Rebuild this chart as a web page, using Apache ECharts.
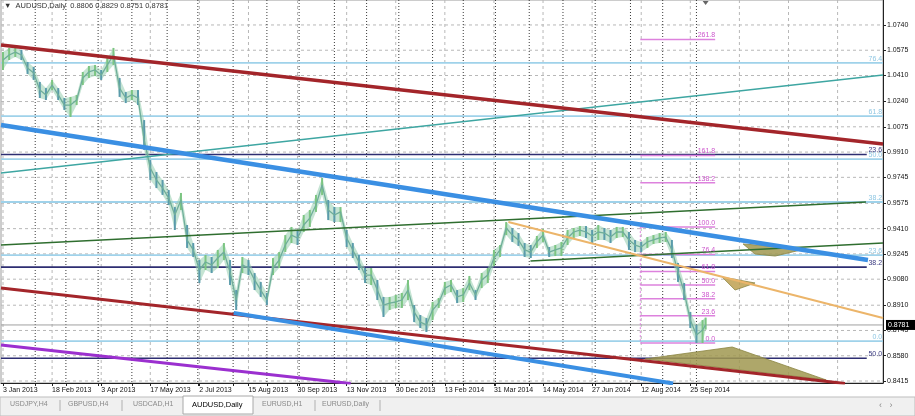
<!DOCTYPE html>
<html><head><meta charset="utf-8">
<script src="https://cdn.jsdelivr.net/npm/echarts@6/dist/echarts.min.js"></script>
<style>html,body{margin:0;padding:0;background:#fff;overflow:hidden}#c{width:915px;height:416px}</style>
</head><body><div id="c"></div>
<script>
// ---------- DATA ----------
const dateLabels = ['3 Jan 2013','18 Feb 2013','3 Apr 2013','17 May 2013','2 Jul 2013','15 Aug 2013','30 Sep 2013','13 Nov 2013','30 Dec 2013','13 Feb 2014','31 Mar 2014','14 May 2014','27 Jun 2014','12 Aug 2014','25 Sep 2014'];
const dateLabelBars = [0,32,64,96,128,160,192,224,256,288,320,352,384,416,448];
const gridBars = [0,32,64,96,128,160,192,224,256,288,320,352,384,416,448,480,512,544];
const monthStartBars = [21,41,62,84,107,127,150,172,193,216,237,258,280,300,321,343,365,386,409,430,452];
const priceTicks = [1.0740,1.0575,1.0410,1.0240,1.0075,0.9910,0.9745,0.9575,0.9410,0.9245,0.9080,0.8910,0.8745,0.8580,0.8415];

// sampled bars (every 4th daily bar, last = current bar)
const closes = [
1.0511,1.0544,1.0563,1.0544,1.0459,1.0426,1.0315,1.0283,1.0348,1.0283,
1.0217,1.0217,1.0250,1.0394,1.0433,1.0446,1.0413,1.0479,1.0544,1.0328,
1.0263,1.0283,1.0263,0.9989,0.9806,0.9728,0.9675,0.9610,0.9499,0.9597,
0.9336,0.9271,0.9140,0.9192,0.9173,0.9218,0.9257,0.9127,0.8944,0.9173,
0.9153,0.9075,0.9009,0.8944,0.9153,0.9205,0.9303,0.9368,0.9349,0.9434,
0.9479,0.9564,0.9695,0.9532,0.9499,0.9519,0.9349,0.9271,0.9192,0.9107,
0.9107,0.9009,0.8911,0.8924,0.8931,0.8944,0.9009,0.8866,0.8800,0.8781,
0.8879,0.8924,0.9022,0.9042,0.8964,0.8977,0.9055,0.8977,0.9075,0.9107,
0.9218,0.9271,0.9414,0.9368,0.9336,0.9271,0.9257,0.9323,0.9368,0.9257,
0.9271,0.9284,0.9349,0.9388,0.9401,0.9388,0.9362,0.9388,0.9381,0.9355,
0.9388,0.9388,0.9336,0.9303,0.9290,0.9323,0.9336,0.9349,0.9355,0.9271,
0.9127,0.8996,0.8813,0.8716,0.8748,0.8781];
const highs = [
1.0563,1.0590,1.0596,1.0577,1.0498,1.0466,1.0368,1.0328,1.0381,1.0328,
1.0263,1.0270,1.0283,1.0433,1.0472,1.0479,1.0446,1.0524,1.0590,1.0394,
1.0302,1.0315,1.0315,1.0119,0.9858,0.9780,0.9728,0.9662,0.9551,0.9643,
0.9434,0.9316,0.9205,0.9238,0.9225,0.9271,0.9316,0.9205,0.9009,0.9225,
0.9205,0.9120,0.9062,0.8990,0.9218,0.9257,0.9368,0.9421,0.9401,0.9499,
0.9532,0.9630,0.9741,0.9597,0.9551,0.9551,0.9401,0.9316,0.9238,0.9153,
0.9153,0.9075,0.8964,0.8964,0.8977,0.8990,0.9075,0.8911,0.8846,0.8826,
0.8931,0.8957,0.9062,0.9075,0.9009,0.9022,0.9101,0.9009,0.9120,0.9153,
0.9271,0.9303,0.9453,0.9414,0.9381,0.9316,0.9303,0.9362,0.9408,0.9290,
0.9303,0.9323,0.9401,0.9414,0.9427,0.9427,0.9401,0.9434,0.9414,0.9401,
0.9421,0.9421,0.9388,0.9336,0.9323,0.9355,0.9368,0.9381,0.9388,0.9336,
0.9186,0.9055,0.8866,0.8781,0.8813,0.8829];
const lows = [
1.0446,1.0511,1.0531,1.0511,1.0420,1.0381,1.0263,1.0250,1.0315,1.0250,
1.0185,1.0139,1.0217,1.0348,1.0394,1.0407,1.0381,1.0433,1.0479,1.0270,
1.0230,1.0250,1.0217,0.9924,0.9728,0.9675,0.9630,0.9564,0.9401,0.9532,
0.9284,0.9225,0.9055,0.9140,0.9120,0.9153,0.9205,0.9042,0.8879,0.9120,
0.9107,0.9009,0.8964,0.8911,0.9107,0.9153,0.9257,0.9316,0.9303,0.9388,
0.9421,0.9519,0.9630,0.9466,0.9453,0.9453,0.9290,0.9218,0.9140,0.9055,
0.9042,0.8944,0.8833,0.8879,0.8892,0.8892,0.8944,0.8800,0.8761,0.8735,
0.8813,0.8892,0.8977,0.8996,0.8924,0.8931,0.9009,0.8944,0.9022,0.9055,
0.9166,0.9225,0.9368,0.9323,0.9297,0.9225,0.9218,0.9284,0.9323,0.9225,
0.9231,0.9231,0.9303,0.9349,0.9362,0.9349,0.9316,0.9336,0.9336,0.9316,
0.9349,0.9355,0.9271,0.9257,0.9257,0.9284,0.9310,0.9316,0.9323,0.9218,
0.9062,0.8944,0.8761,0.8663,0.8663,0.8751];
const sampleBars = closes.map((_, i) => i < closes.length - 1 ? i * 4 : 458);
const lastOHLC = [0.8806, 0.8829, 0.8751, 0.8781];

// drawn objects: [bar, price] end points
const redUpperLine   = [[-1.3, 1.0609], [573.6, 0.9963]];
const blueUpperLine  = [[-1.3, 1.0087], [563.8, 0.9205]];
const redLowerLine   = [[-1.3, 0.9022], [548.8, 0.8399]];
const blueLowerLine  = [[150.4, 0.8859], [436.8, 0.8399]];
const purpleLine     = [[-1.3, 0.8650], [226.6, 0.8399]];
const tealLine       = [[-1.3, 0.9773], [573.6, 1.0413]];
const greenUpperLine = [[-1.3, 0.9303], [562.5, 0.9584]];
const orangeLine     = [[329.4, 0.9453], [573.6, 0.8826]];
const greenLowerLine = [[343.8, 0.9199], [573.6, 0.9316]];

const oliveBottom = [[418.6, 0.8559], [475.3, 0.8637], [536.5, 0.8422]];
const oliveMid    = [[482.4, 0.9310], [522.8, 0.9277], [503.3, 0.9231], [490.2, 0.9244]];
const oliveSmall  = [[468.75, 0.9094], [490.2, 0.9055], [477.2, 0.9009]];

// Fibonacci objects
const blueFibLevels = [0, 23.6, 38.2, 50.0, 61.8, 76.4];
const blueFibAnchors = [0.8676, 1.1053];      // 0% , 100%
const blueFibBars = [-1.3, 573.6];
const navyFibLevels = [23.6, 38.2, 50.0];
const navyFibAnchors = [1.1083, 0.6045];
const navyFibBars = [-1.3, 563];
const pinkFibLevels = [0, 23.6, 38.2, 50.0, 61.8, 76.4, 100.0, 138.2, 161.8, 261.8];
const pinkFibAnchors = [0.8663, 0.9420];
const pinkFibBars = [415.4, 464.2];

const tabs = ['USDJPY,H4','GBPUSD,H4','USDCAD,H1','AUDUSD,Daily','EURUSD,H1','EURUSD,Daily'];

// ---------- CHART ----------
const X_MIN = -1.3, X_MAX = 573.6, Y_MIN = 0.8402, Y_MAX = 1.0903;
const FONT = 'Liberation Sans, Arial, sans-serif';
const chart = echarts.init(document.getElementById('c'), null, {renderer: 'canvas'});

function fibPrice(anch, r) { return anch[0] + (anch[1] - anch[0]) * r / 100; }

function hRules(values, bars, style, z) {
  return { type: 'custom', silent: true, z: z, clip: true,
    data: values.map(v => [bars[0], v]),
    renderItem: (params, api) => {
      const a = api.coord([bars[0], api.value(1)]);
      const b = api.coord([bars[1], api.value(1)]);
      return { type: 'line', shape: {x1: a[0], y1: a[1], x2: b[0], y2: b[1]}, style: style };
    } };
}
function vRules(bars, style, z, p0, p1) {
  return { type: 'custom', silent: true, z: z, clip: true,
    data: bars.map(b => [b, p0 === undefined ? Y_MIN : p0]),
    renderItem: (params, api) => {
      const a = api.coord([api.value(0), p1 === undefined ? Y_MAX : p1]);
      const b = api.coord([api.value(0), p0 === undefined ? Y_MIN : p0]);
      return { type: 'line', shape: {x1: a[0], y1: a[1], x2: b[0], y2: b[1]}, style: style };
    } };
}
function textLabels(points, texts, color, z) {
  return { type: 'custom', silent: true, z: z, clip: true,
    data: points,
    renderItem: (params, api) => {
      const p = api.coord([api.value(0), api.value(1)]);
      return { type: 'text', x: p[0], y: p[1] - 0.5,
        style: { text: texts[params.dataIndex], fill: color, font: '7px ' + FONT, align: 'right', verticalAlign: 'bottom' } };
    } };
}
function trend(points, color, width, z) {
  return { type: 'line', data: points, symbol: 'none', silent: true, z: z, clip: true,
    lineStyle: { color: color, width: width }, animation: false };
}
function poly(verts, fill, z) {
  return { type: 'custom', silent: true, z: z, data: verts,
    renderItem: (params, api) => {
      if (params.dataIndex !== 0) return null;
      return { type: 'polygon', shape: { points: verts.map(v => api.coord(v)) },
        style: { fill: fill, stroke: '#8a8440', lineWidth: 0.8 } };
    } };
}

const series = [];
// grid
series.push(hRules(priceTicks, [X_MIN, X_MAX], {stroke: '#b8b8b8', lineWidth: 1, lineDash: [3, 3]}, 1));
series.push(vRules(gridBars, {stroke: '#b8b8b8', lineWidth: 1, lineDash: [3, 3]}, 1));
series.push(vRules(monthStartBars, {stroke: '#3a3a3a', lineWidth: 1, lineDash: [1, 2]}, 1));
// fib horizontals
series.push(hRules(blueFibLevels.map(r => fibPrice(blueFibAnchors, r)), blueFibBars, {stroke: '#9fd2ea', lineWidth: 1.8}, 2));
series.push(hRules(navyFibLevels.map(r => fibPrice(navyFibAnchors, r)), navyFibBars, {stroke: '#2e2e72', lineWidth: 1.6}, 2));
series.push(hRules([lastOHLC[3]], [X_MIN, X_MAX], {stroke: '#a0a0a0', lineWidth: 1}, 2));
// olive shapes
series.push(poly(oliveBottom, 'rgba(160,152,80,0.85)', 3));
series.push(poly(oliveMid, 'rgba(160,152,80,0.85)', 3));
series.push(poly(oliveSmall, 'rgba(190,160,80,0.85)', 3));
// pink fib
series.push(hRules(pinkFibLevels.map(r => fibPrice(pinkFibAnchors, r)), pinkFibBars, {stroke: '#dd82dd', lineWidth: 1.5}, 4));
series.push(vRules([pinkFibBars[0]], {stroke: '#dd82dd', lineWidth: 1, lineDash: [2, 2]}, 4, pinkFibAnchors[0], pinkFibAnchors[1]));
// price: high-low band, bars, close line
series.push({ type: 'custom', silent: true, z: 5,
  data: sampleBars.map((b, i) => [b, lows[i], highs[i]]),
  encode: { x: 0, y: [1, 2] },
  renderItem: (params, api) => {
    if (params.dataIndex !== 0) return null;
    const top = sampleBars.map((b, i) => api.coord([b, highs[i]]));
    const bot = sampleBars.map((b, i) => api.coord([b, lows[i]])).reverse();
    return { type: 'polygon', shape: { points: top.concat(bot), smooth: 0 },
      style: { fill: 'rgba(150,205,175,0.55)', stroke: null } };
  } });
series.push({ type: 'custom', silent: true, z: 5,
  data: sampleBars.map((b, i) => [b, lows[i], highs[i], closes[i]]),
  encode: { x: 0, y: [1, 2] },
  renderItem: (params, api) => {
    const i = params.dataIndex;
    const lo = api.coord([api.value(0), api.value(1)]);
    const hi = api.coord([api.value(0), api.value(2)]);
    const up = i === 0 || closes[i] >= closes[i - 1];
    return { type: 'line', shape: {x1: lo[0], y1: lo[1], x2: hi[0], y2: hi[1]},
      style: { stroke: up ? '#7cc582' : '#5a9bab', lineWidth: 2 } };
  } });
series.push({ type: 'line', z: 5, silent: true, symbol: 'none', animation: false,
  data: sampleBars.map((b, i) => [b, closes[i]]),
  lineStyle: { color: '#6fae9a', width: 1.3 } });
// trend lines
series.push(trend(tealLine, '#3ea6a2', 1.5, 6));
series.push(trend(greenUpperLine, '#2f6e2f', 1.6, 6));
series.push(trend(greenLowerLine, '#2f6e2f', 1.6, 6));
series.push(trend(orangeLine, '#ecb56a', 2, 6));
series.push(trend(redUpperLine, '#a3252a', 3.5, 7));
series.push(trend(redLowerLine, '#a3252a', 3, 7));
series.push(trend(purpleLine, '#9b30cf', 3, 7));
series.push(trend(blueUpperLine, '#3a8fe3', 4.5, 7));
series.push(trend(blueLowerLine, '#3a8fe3', 4, 7));
// labels
series.push(textLabels(blueFibLevels.map(r => [blueFibBars[1] - 0.5, fibPrice(blueFibAnchors, r)]), blueFibLevels.map(r => r.toFixed(1)), '#8ec6e2', 8));
series.push(textLabels(navyFibLevels.map(r => [navyFibBars[1] + 10, fibPrice(navyFibAnchors, r)]), navyFibLevels.map(r => r.toFixed(1)), '#3a3a80', 8));
series.push(textLabels(pinkFibLevels.map(r => [pinkFibBars[1], fibPrice(pinkFibAnchors, r)]), pinkFibLevels.map(r => r.toFixed(1)), '#cc55cc', 8));
// current price box
series.push({ type: 'custom', silent: true, z: 20, clip: false,
  data: [[X_MAX, lastOHLC[3]]],
  renderItem: (params, api) => {
    const p = api.coord([api.value(0), api.value(1)]);
    return { type: 'group', children: [
      { type: 'rect', shape: { x: p[0] + 3, y: p[1] - 5, width: 30, height: 10 }, style: { fill: '#000' } },
      { type: 'text', x: p[0] + 5, y: p[1], style: { text: api.value(1).toFixed(4), fill: '#fff', font: '7px ' + FONT, verticalAlign: 'middle' } }
    ] };
  } });

const option = {
  animation: false,
  backgroundColor: '#ffffff',
  grid: { left: 0, top: 0, right: 32, bottom: 33, show: true, borderColor: '#9a9a9a', borderWidth: 1 },
  xAxis: { type: 'value', min: X_MIN, max: X_MAX,
    axisLine: { show: true, onZero: false, lineStyle: { color: '#222' } },
    axisTick: { show: true, customValues: dateLabelBars.concat(monthStartBars), length: 3, lineStyle: { color: '#222' } },
    axisLabel: { customValues: dateLabelBars, formatter: v => dateLabels[dateLabelBars.indexOf(Math.round(v))] || '',
      align: 'left', fontSize: 7, fontFamily: FONT, color: '#111', margin: 4 },
    splitLine: { show: false } },
  yAxis: { type: 'value', position: 'right', min: Y_MIN, max: Y_MAX, scale: true,
    axisLine: { show: true, onZero: false, lineStyle: { color: '#222' } },
    axisTick: { show: true, customValues: priceTicks, length: 3, lineStyle: { color: '#222' } },
    axisLabel: { customValues: priceTicks, formatter: v => v.toFixed(4), fontSize: 7, fontFamily: FONT, color: '#111', margin: 4 },
    splitLine: { show: false } },
  series: series
};
chart.setOption(option);

// header, shift marker, tabs
const tabX = [10, 68, 133, 192, 262, 322];
const seps = [60, 122, 315, 380];
const shiftX = chart.convertToPixel({ xAxisIndex: 0 }, sampleBars[sampleBars.length - 1]);
const g = [
  { type: 'text', left: 4, top: 2, z: 50, style: { text: '\u25BC  ' + 'AUDUSD,Daily  ' + lastOHLC.map(v => v.toFixed(4)).join(' '), fill: '#333', font: '7.5px ' + FONT } },
  { type: 'polygon', z: 50, shape: { points: [[shiftX - 3, 1], [shiftX + 3, 1], [shiftX, 5]] }, style: { fill: '#666' } },
  { type: 'rect', z: 40, shape: { x: 0, y: 397, width: 915, height: 19 }, style: { fill: '#f0f0f0', stroke: '#bdbdbd', lineWidth: 1 } },
  { type: 'rect', z: 41, shape: { x: 183, y: 396, width: 70, height: 18 }, style: { fill: '#ffffff', stroke: '#a8a8a8', lineWidth: 1 } },
  { type: 'text', z: 45, left: 879, top: 401, style: { text: '\u2039   \u203A', fill: '#888', font: '9px ' + FONT } }
];
tabs.forEach((t, i) => g.push({ type: 'text', z: 45, left: tabX[i], top: 401,
  style: { text: t, fill: i === 3 ? '#000' : '#8a8a8a', font: (i === 3 ? '7.5px ' : '7px ') + FONT } }));
seps.forEach(x => g.push({ type: 'line', z: 45, shape: { x1: x, y1: 400, x2: x, y2: 411 }, style: { stroke: '#b0b0b0', lineWidth: 1 } }));
chart.setOption({ graphic: g });
</script>
</body></html>
